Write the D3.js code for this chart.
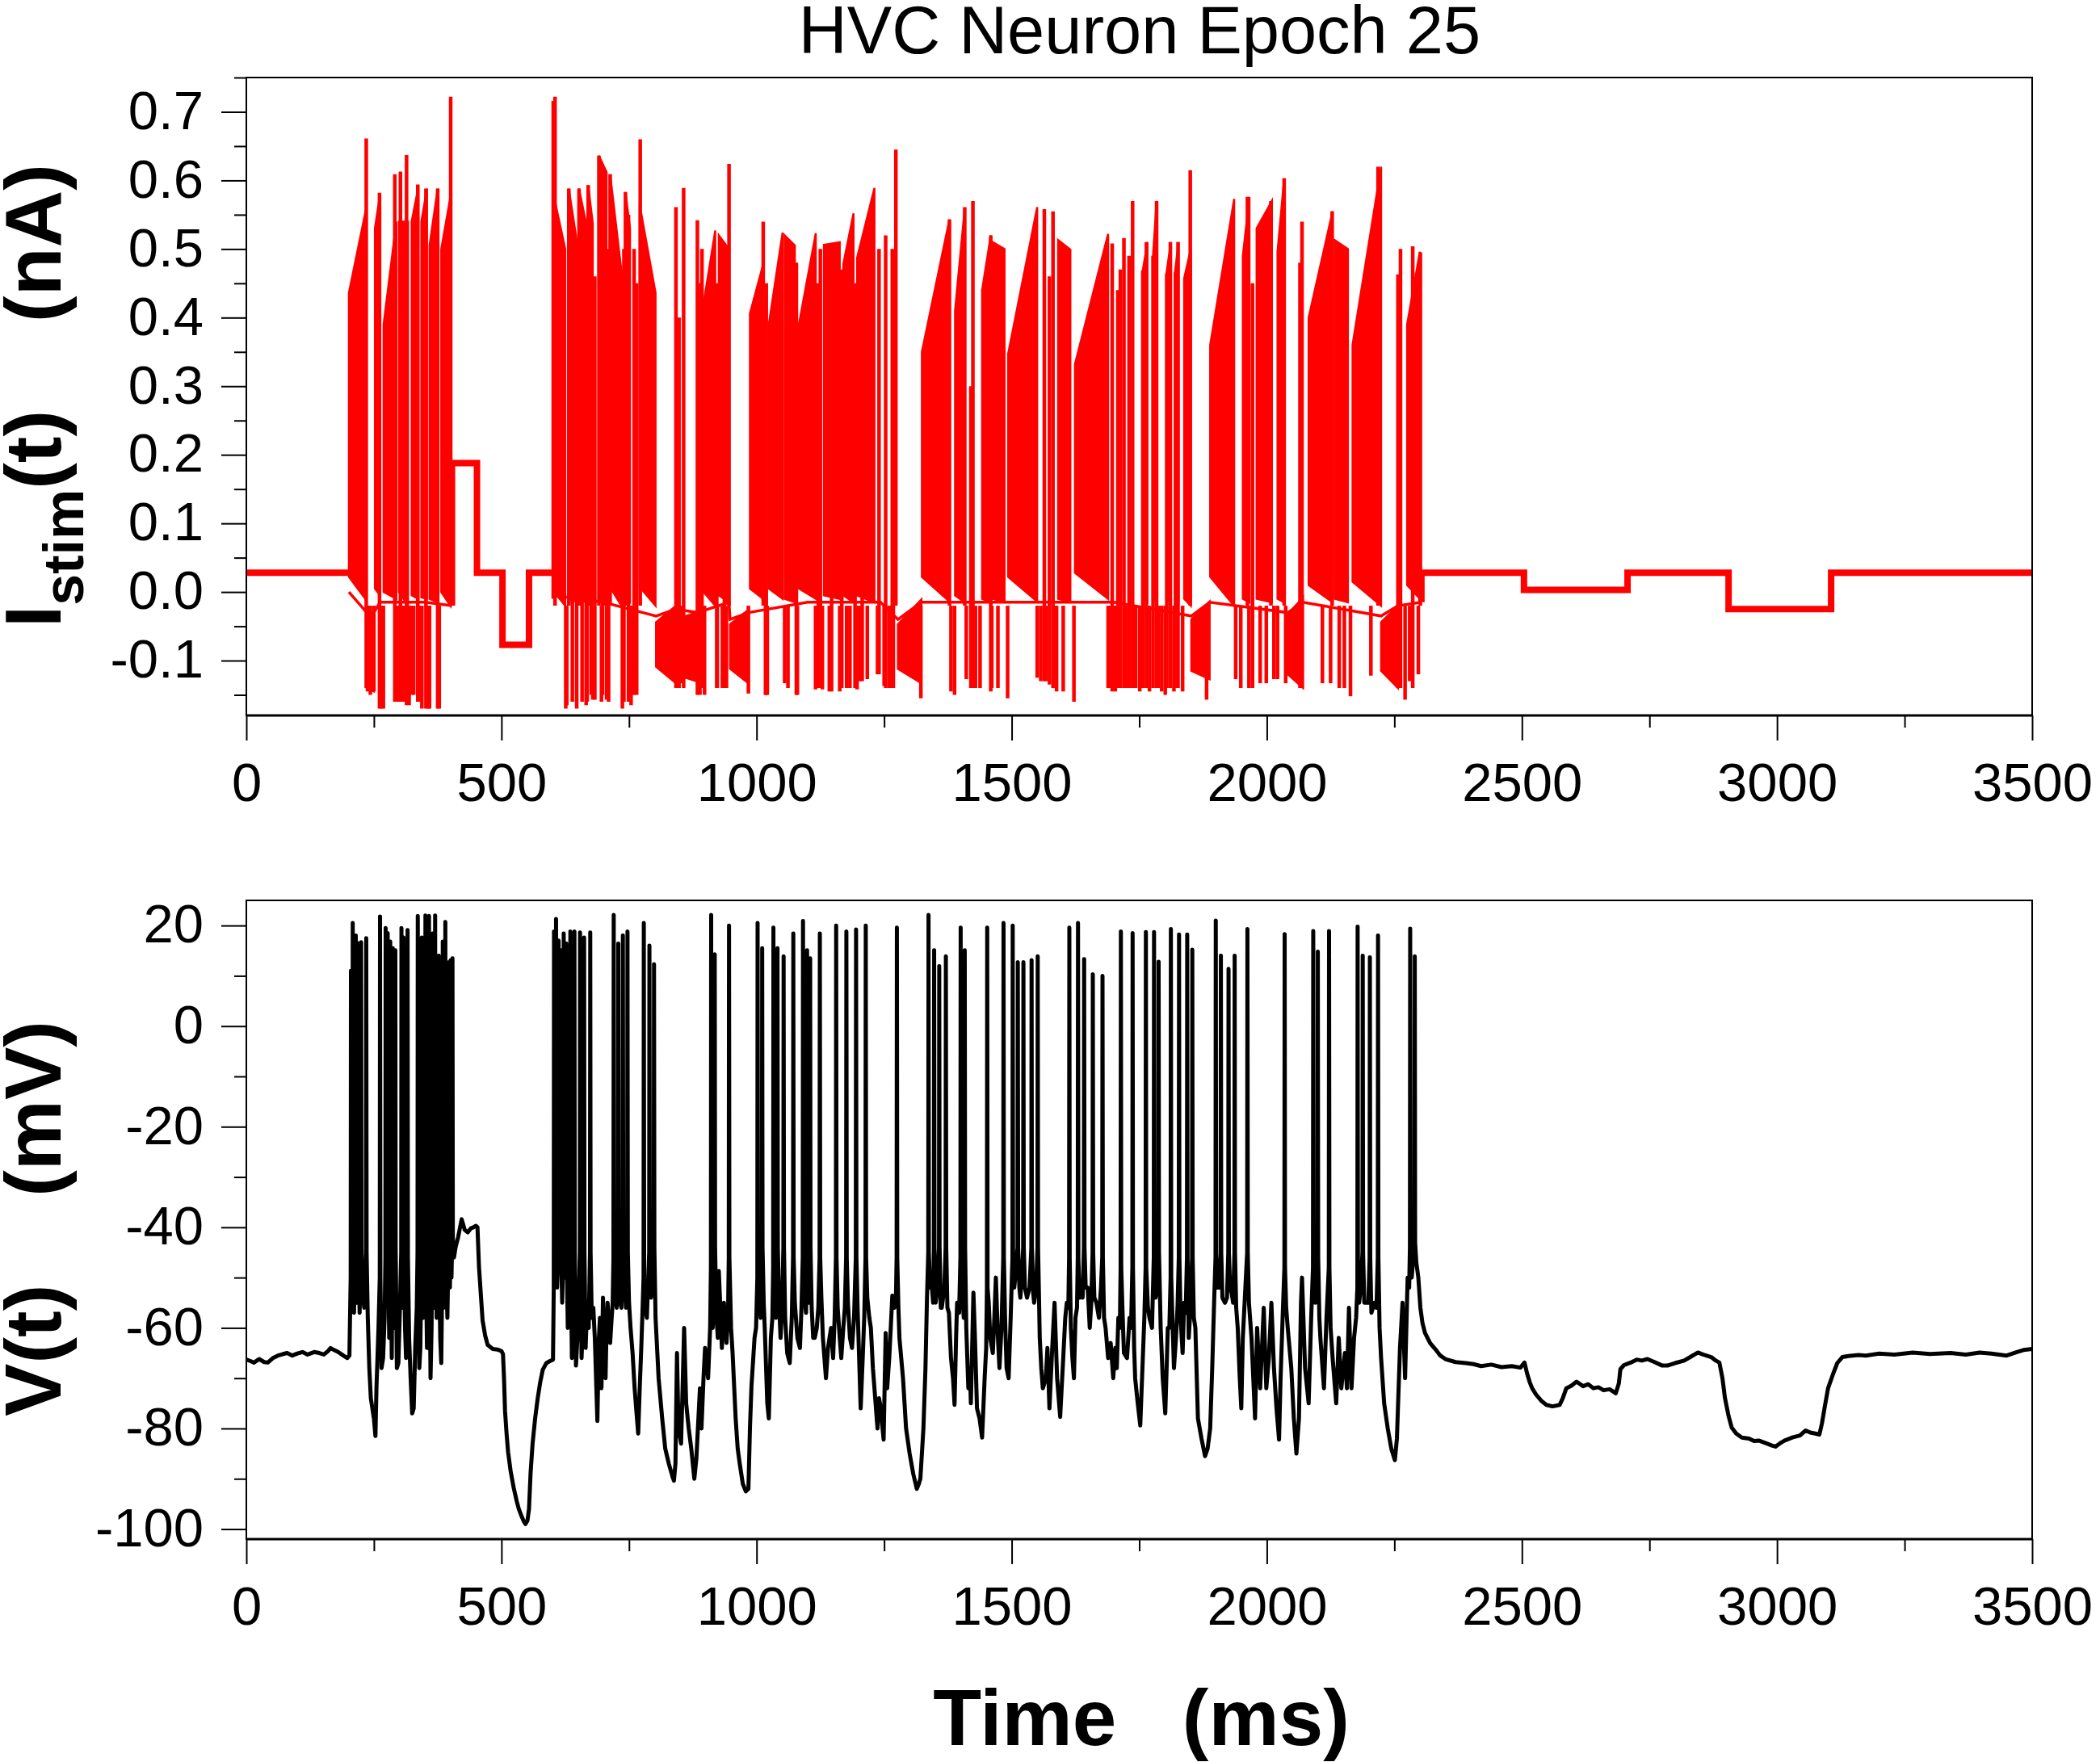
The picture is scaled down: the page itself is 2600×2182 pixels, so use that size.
<!DOCTYPE html>
<html><head><meta charset="utf-8">
<script src="https://cdn.jsdelivr.net/npm/d3@7"></script>
<style>
html,body{margin:0;padding:0;background:#fff;}
svg{display:block;}
text{font-family:"Liberation Sans",Arial,Helvetica,sans-serif;}
</style></head><body>
<svg id="chart" width="2600" height="2182"></svg>
<script>
// ---------- tick values & labels ----------
const timeTicks = [0,500,1000,1500,2000,2500,3000,3500];
const timeLabels = ["0","500","1000","1500","2000","2500","3000","3500"];
const timeMinor = [250,750,1250,1750,2250,2750,3250];
const currentTicks = [-0.1,0,0.1,0.2,0.3,0.4,0.5,0.6,0.7];
const currentLabels = ["-0.1","0.0","0.1","0.2","0.3","0.4","0.5","0.6","0.7"];
const currentMinor = [-0.15,-0.05,0.05,0.15,0.25,0.35,0.45,0.55,0.65,0.75];
const voltageTicks = [-100,-80,-60,-40,-20,0,20];
const voltageLabels = ["-100","-80","-60","-40","-20","0","20"];
const voltageMinor = [-90,-70,-50,-30,-10,10];

// ---------- stimulus current I_stim(t) (nA) ----------
const stimSteps = [
 [[0,0.028],[201,0.028]],
 [[403,-0.02],[403,0.188],[452,0.188],[452,0.028],[502,0.028],[502,-0.077],[554,-0.077],[554,0.028],[601,0.028]],
 [[2303,-0.015],[2303,0.028],[2504,0.028],[2504,0.003],[2707,0.003],[2707,0.028],[2905,0.028],[2905,-0.025],[3106,-0.025],[3106,0.028],[3500,0.028]]
];
const stimFloor = [
 [[201,0.0],[236,-0.03],[250,-0.03],[262,-0.015],[300,-0.015],[350,-0.015],[403,-0.02]],
 [[601,-0.005],[700,-0.015],[803,-0.035],[842,-0.025],[884,-0.03],[946,-0.015],[948,-0.04],[984,-0.03],[1100,-0.015],[1243,-0.015],[1277,-0.04],[1323,-0.015],[1500,-0.015],[1700,-0.015],[1852,-0.035],[1888,-0.015],[2041,-0.03],[2071,-0.015],[2224,-0.035],[2257,-0.02],[2303,-0.015]]
];
// dense oscillation bands [t0, t1, top0, top1, bottom0, bottom1]
const stimBands = [
 [201,235,0.436,0.56,0.022,-0.012],[236,250,-0.03,-0.03,-0.14,-0.145],[252,262,0.53,0.58,0.005,-0.005],
 [269,294,0.39,0.54,0.0,-0.01],[299,317,0.54,0.54,0.0,-0.02],[324,337,0.54,0.59,-0.005,-0.01],
 [343,354,0.54,0.588,-0.008,-0.01],[359,375,0.505,0.588,-0.01,-0.015],[382,400,0.5,0.576,0.0,-0.02],
 [603,625,0.576,0.50,0.0,-0.02],[632,649,0.588,0.505,-0.01,-0.015],[652,666,0.588,0.537,-0.01,-0.015],
 [670,679,0.593,0.537,-0.01,-0.015],[691,706,0.636,0.612,-0.01,-0.015],[713,735,0.609,0.469,0.007,-0.02],
 [743,752,0.583,0.53,-0.01,-0.015],[771,802,0.564,0.436,0.007,-0.02],[803,842,-0.044,-0.02,-0.109,-0.133],
 [861,882,-0.035,-0.03,-0.125,-0.13],[896,919,0.42,0.527,0.0,-0.02],[926,946,0.52,0.5,-0.005,-0.015],
 [948,984,-0.047,-0.026,-0.112,-0.133],[987,1013,0.406,0.478,0.005,-0.01],[1024,1051,0.39,0.524,0.005,-0.01],
 [1055,1075,0.52,0.505,-0.01,-0.015],[1083,1116,0.39,0.523,0.005,-0.01],[1132,1163,0.506,0.51,-0.005,-0.01],
 [1170,1190,0.478,0.552,-0.005,-0.015],[1197,1231,0.487,0.589,-0.005,-0.015],[1277,1323,-0.047,-0.011,-0.112,-0.133],
 [1324,1378,0.35,0.543,0.022,-0.014],[1389,1408,0.41,0.56,-0.005,-0.015],[1442,1459,0.44,0.52,-0.01,-0.015],
 [1463,1486,0.51,0.50,-0.01,-0.015],[1493,1550,0.347,0.561,0.022,-0.014],[1591,1615,0.513,0.499,-0.01,-0.015],
 [1624,1689,0.332,0.522,0.028,-0.01],[1757,1766,0.469,0.51,-0.01,-0.015],[1777,1784,0.49,0.57,-0.01,-0.015],
 [1803,1812,0.463,0.51,-0.01,-0.015],[1820,1827,0.466,0.51,-0.01,-0.015],[1838,1851,0.457,0.5,-0.01,-0.02],
 [1852,1888,-0.04,-0.014,-0.115,-0.127],[1889,1936,0.36,0.573,0.022,-0.02],[1953,1966,0.49,0.576,-0.01,-0.015],
 [1980,2010,0.53,0.57,-0.01,-0.015],[2021,2034,0.496,0.603,-0.01,-0.015],[2041,2071,-0.032,-0.008,-0.12,-0.14],
 [2082,2129,0.40,0.555,0.01,-0.015],[2133,2159,0.513,0.50,-0.01,-0.015],[2168,2224,0.36,0.62,0.015,-0.02],
 [2224,2257,-0.044,-0.02,-0.115,-0.14],[2275,2300,0.39,0.496,0.01,-0.01]
];
// individual excursions [t, low, high]
const stimSpikes = [
 [235,-0.14,0.661],[237.5,-0.145,-0.02],[243,-0.15,-0.02],[250,-0.145,-0.02],[261,-0.17,0.582],[264.5,-0.17,-0.02],[268.6,-0.17,-0.02],
 [291,-0.16,0.609],[297,-0.16,-0.02],[302,-0.16,0.613],[305,-0.16,-0.02],[309,-0.16,-0.02],[314,-0.165,0.637],[319,-0.165,-0.02],
 [324,-0.15,-0.02],[328,-0.15,-0.02],[336,-0.16,0.594],[341,-0.16,-0.02],[344,-0.17,-0.02],[352,-0.17,0.588],[356.5,-0.17,-0.02],
 [359,-0.17,-0.02],[375,-0.17,0.588],[378,-0.17,-0.02],[400.5,-0.02,0.722],
 [601.5,-0.01,0.716],[605,-0.02,0.722],[626,-0.17,-0.02],[628,-0.165,-0.02],[632,-0.02,0.588],[639,-0.16,0.47],[647.5,-0.17,0.505],[652,-0.02,0.588],
 [658,-0.16,0.5],[666,-0.165,0.537],[668,-0.16,-0.02],[670,-0.02,0.593],[676,-0.15,0.52],[679,-0.157,-0.02],[683,-0.157,0.46],[691,-0.02,0.636],[696,-0.16,-0.02],
 [698,-0.15,0.55],[701,-0.02,0.613],[704,-0.02,0.614],[706,-0.157,-0.02],[710,-0.16,0.5],[713,-0.02,0.609],[737,-0.17,0.47],[740,-0.16,0.5],[743,-0.02,0.583],
 [749,-0.16,0.55],[754,-0.165,-0.02],[757,-0.15,-0.02],[760,-0.15,0.5],[765,-0.15,0.45],[772,-0.02,0.66],[842,-0.14,0.561],[845,-0.13,-0.02],[848,-0.14,0.4],
 [852,-0.133,-0.02],[857,-0.14,0.589],[884,-0.15,0.542],[889,-0.15,0.45],[893,-0.14,0.5],[898,-0.15,-0.02],[922,-0.14,0.45],[923,-0.14,-0.02],
 [933,-0.14,-0.02],[937,-0.14,0.5],[941,-0.14,-0.02],[946,-0.02,0.624],[984,-0.148,-0.02],
 [1013,-0.02,0.54],[1017.5,-0.15,-0.02],[1019,-0.15,0.45],[1021,-0.15,-0.02],[1055,-0.133,-0.02],[1061.5,-0.14,-0.02],[1078,-0.15,0.48],[1080,-0.15,-0.02],
 [1115.6,-0.142,-0.02],[1121,-0.14,0.45],[1125,-0.14,0.5],[1129,-0.142,-0.02],[1142.6,-0.145,-0.02],[1147,-0.145,0.45],[1163,-0.145,-0.02],
 [1167,-0.14,0.47],[1176.5,-0.14,-0.02],[1183,-0.14,-0.02],[1193,-0.14,0.45],[1197,-0.142,-0.02],[1203.5,-0.13,-0.02],[1207,-0.13,0.5],
 [1217,-0.127,-0.02],[1237,-0.12,-0.02],[1240,-0.12,0.5],
 [1250,-0.137,-0.02],[1253,-0.14,0.52],[1260,-0.14,-0.02],[1266,-0.14,0.50],[1268,-0.14,0.49],[1273,-0.02,0.645],[1322,-0.155,-0.02],[1378,-0.02,0.543],
 [1381,-0.145,-0.02],[1388,-0.15,-0.02],[1408,-0.02,0.561],[1411,-0.127,-0.02],[1420,-0.14,0.3],[1424,-0.14,0.57],[1429,-0.14,-0.02],[1438,-0.14,-0.02],
 [1459,-0.145,0.52],[1461,-0.14,-0.02],[1473,-0.14,-0.02],[1492,-0.155,-0.02],[1550,-0.125,-0.02],[1557,-0.13,-0.02],[1564,-0.13,0.558],
 [1567,-0.13,-0.02],[1574,-0.135,0.46],[1581,-0.14,0.555],[1584,-0.135,-0.02],[1588,-0.145,-0.02],[1601,-0.145,-0.02],[1622,-0.16,-0.02],
 [1689,-0.14,-0.02],[1693,-0.14,-0.02],[1697,-0.145,0.508],[1703,-0.145,-0.02],[1708,-0.14,0.44],[1713,-0.14,0.47],[1720,-0.14,0.516],[1724,-0.14,-0.02],[1730,-0.14,0.49],
 [1737,-0.14,0.57],[1743,-0.14,-0.02],[1751,-0.145,-0.02],[1757,-0.14,0.469],[1764,-0.14,0.51],[1770,-0.145,-0.02],[1777,-0.14,0.49],
 [1784,-0.14,0.57],[1787,-0.14,-0.02],[1794,-0.145,-0.02],[1801,-0.15,-0.02],[1804,-0.14,0.463],[1811,-0.14,0.51],[1818,-0.145,-0.02],
 [1821,-0.14,0.466],[1826,-0.14,0.51],[1835,-0.145,-0.02],[1850,-0.02,0.615],[1882,-0.157,-0.02],[1939,-0.127,-0.02],[1949,-0.14,-0.02],
 [1962,-0.02,0.576],[1965,-0.14,-0.02],[1972,-0.14,0.45],[1987,-0.133,-0.02],[1999,-0.133,-0.02],[2008,-0.02,0.57],[2014,-0.127,-0.02],[2021,-0.127,-0.02],
 [2034,-0.02,0.603],[2037,-0.133,-0.02],[2065,-0.14,0.48],[2069,-0.14,0.54],[2109,-0.133,-0.02],[2125,-0.133,-0.02],[2128,-0.02,0.555],
 [2142,-0.14,-0.02],[2152,-0.14,-0.02],[2164,-0.152,-0.02],[2204,-0.122,-0.02],[2218,-0.02,0.62],[2257,-0.14,0.463],[2262,-0.14,0.5],
 [2271,-0.157,-0.02],[2280,-0.13,-0.02],[2286,-0.14,0.504],[2297,-0.12,-0.02],[2301,-0.02,0.495]
];

// ---------- membrane voltage V(t) (mV) ----------
const vBase = [
 [0,-66.3],[8,-66.6],[15,-66.9],[25,-66.2],[35,-66.8],[42,-66.9],[52,-66],[62,-65.5],[72,-65.2],[80,-65],[90,-65.5],[100,-65.1],
 [110,-64.8],[120,-65.3],[133,-64.8],[143,-65],[152,-65.3],[160,-64.6],[165,-64],[172,-64.4],[180,-64.8],[190,-65.5],[198,-66],[202,-65.5],
 [207,-53],[211,-57],[213,-48],[217,-55],[222,-57],[227,-52],[231,-56],[233,-50],[238,-58],[241,-68],[244,-74],[247,-76],[250,-78],
 [253,-81.5],[255,-72],[257,-66],[259,-60],[265,-68],[268,-66],[271,-58],[275,-55],[280,-62],[285,-66],[290,-60],[295,-68],[298,-67],
 [301,-56],[306,-56],[311,-60],[313,-66],[319,-62],[322,-70],[325,-77],[328,-76],[331,-64],[334,-56],[339,-68],[341,-64],[347,-58],
 [349,-54],[354,-64],[356,-56],[361,-70],[363,-60],[367,-56],[373,-58],[375,-50],[380,-62],[382,-67],[387,-56],[394,-58],[399,-52],
 [402,-50],[407,-46],[410,-44],[415,-42],[422,-38.4],[428,-40.5],[434,-41],[440,-40.2],[445,-40],[450,-39.7],[453,-40],[456,-47.9],
 [460,-54],[463,-58.5],[468,-61.5],[473,-63.4],[478,-63.8],[483,-64.2],[492,-64.3],[500,-64.6],[503,-65.2],[505,-70],[507,-76.5],
 [510,-81],[513,-84.7],[518,-88.5],[524,-91.8],[530,-94.5],[534,-96],[540,-97.6],[544,-98.5],[547,-99],[551,-98.3],[554,-96],[557,-89],
 [561,-83],[566,-78],[571,-74],[576,-70.8],[581,-68.3],[588,-67],[595,-66.6],[601,-66.3],
 [605,-48],[609,-52],[614,-46],[619,-55],[624,-50],[630,-60],[633,-56],[638,-66],[640,-62],[646,-67.5],[650,-60],[657,-66],[660,-58],
 [665,-64],[668,-55],[671,-60],[677,-58],[680,-56],[683,-62],[686,-72],[688,-78.5],[691,-62],[693,-58],[696,-72],[699,-54],[702,-66],
 [704,-70],[706,-60],[708,-55],[711,-60],[713,-63],[716,-58],[718,-55],[723,-52],[726,-56],[732,-54],[735,-56],[741,-50],[744,-56],
 [750,-55],[753,-60],[757,-65],[761,-72],[764,-76],[768,-81],[771,-72],[774,-64],[776,-58],[782,-56],[785,-58],[787,-52],[793,-54],
 [796,-52],[802,-58],[805,-64],[808,-70],[815,-78],[821,-84],[828,-87],[835,-89.5],[838,-90.4],[841,-87],[844,-65],[847,-80],[852,-83],
 [855,-72],[858,-60],[862,-75],[867,-80],[872,-84],[878,-90],[882,-86],[886,-78],[889,-72],[892,-80],[896,-70],[899,-64],[903,-68],
 [905,-70],[909,-60],[914,-60],[916,-55],[921,-57],[924,-62],[926,-48.7],[929,-56],[932,-64],[936,-55],[939,-60],[941,-63],[944,-58],
 [950,-60],[953,-65],[959,-78],[963,-84],[967,-87],[973,-91],[979,-92.5],[984,-92],[987,-80],[990,-71.6],[996,-62],[999,-60],
 [1005,-54],[1008,-58],[1014,-55],[1016,-60],[1021,-75],[1024,-78],[1028,-62],[1031,-58],[1036,-55],[1038,-58],[1044,-55],[1047,-62],
 [1050,-56],[1056,-58],[1060,-65],[1065,-67],[1069,-58],[1075,-55],[1080,-62],[1085,-64],[1088,-56],[1094,-54],[1097,-57],[1102,-55],
 [1108,-56],[1111,-62],[1114,-62],[1118,-60],[1121,-56],[1127,-54],[1130,-62],[1136,-70],[1140,-64],[1146,-60],[1150,-66],[1153,-58],
 [1159,-56],[1163,-62],[1166,-66],[1170,-60],[1173,-56],[1179,-55],[1183,-62],[1187,-64],[1191,-58],[1198,-56],[1201,-66],[1204,-76],
 [1208,-66],[1211,-58],[1217,-54],[1221,-58],[1224,-60],[1228,-68],[1231,-72],[1234,-76],[1237,-80],[1240,-74],[1243,-75.7],[1246,-79],
 [1249,-82.2],[1253,-61],[1256,-72],[1260,-66],[1263,-60],[1266,-53.6],[1270,-56],[1273,-55],[1278,-56],[1280,-62],[1287,-70],[1293,-80],
 [1300,-85],[1307,-89],[1314,-92],[1318,-91],[1321,-90],[1327,-80],[1331,-68],[1334,-54],[1340,-52],[1343,-51],[1346,-55],[1351,-55],
 [1355,-52],[1361,-56],[1363,-56],[1368,-52],[1374,-56],[1377,-57],[1381,-66],[1385,-70],[1388,-75.3],[1391,-62],[1393,-55],[1397,-57],
 [1403,-52],[1406,-58],[1411,-60],[1415,-72],[1418,-68],[1420,-75],[1425,-53],[1428,-62],[1432,-76],[1437,-78],[1442,-81.8],[1447,-70],
 [1450,-64],[1455,-55],[1458,-62],[1463,-65],[1466,-58],[1469,-50],[1473,-62],[1476,-68],[1480,-60],[1487,-58],[1490,-68],[1494,-70],
 [1498,-58],[1505,-52],[1507,-50],[1515,-52],[1517,-54],[1520,-50],[1526,-52],[1530,-54],[1535,-52],[1542,-53],[1544,-55],[1548,-52],
 [1555,-62],[1558,-68],[1561,-72],[1567,-70],[1570,-64],[1574,-76],[1579,-65],[1584,-55],[1589,-70],[1595,-77.7],[1601,-66],[1605,-58],
 [1608,-55],[1611,-56],[1616,-60],[1619,-66],[1622,-70],[1625,-58],[1628,-56],[1633,-54],[1635,-52],[1639,-54],[1645,-52],[1649,-52],
 [1653,-60],[1656,-55],[1662,-54],[1666,-55],[1671,-58],[1675,-52],[1681,-58],[1684,-60],[1689,-66],[1694,-63],[1699,-70],[1703,-64],
 [1706,-68],[1709,-58],[1712,-60],[1717,-56],[1720,-65],[1726,-66],[1731,-58],[1734,-60],[1740,-64],[1742,-70],[1747,-75],[1752,-79.4],
 [1757,-66],[1760,-58],[1767,-56],[1770,-58],[1775,-60],[1782,-54],[1785,-52],[1792,-60],[1796,-70],[1801,-77],[1806,-60],
 [1809,-60],[1815,-58],[1818,-68],[1822,-62],[1825,-56],[1831,-58],[1835,-65],[1838,-55],[1841,-57],[1847,-62],[1851,-55],[1857,-58],
 [1860,-60],[1865,-78],[1872,-82],[1879,-85.5],[1884,-84],[1889,-80],[1893,-68],[1897,-54],[1903,-52],[1906,-52],[1913,-54],
 [1918,-55],[1922,-54],[1928,-52],[1931,-53],[1934,-55],[1940,-56],[1943,-60],[1947,-70],[1950,-76],[1953,-62],[1958,-52],[1965,-55],
 [1970,-62],[1977,-78],[1981,-60],[1987,-72],[1994,-56],[1999,-72],[2004,-66],[2009,-55],[2014,-68],[2019,-76],[2024,-82.2],[2027,-70],
 [2031,-58],[2038,-56],[2041,-60],[2048,-68],[2053,-78],[2058,-85],[2063,-78],[2067,-55],[2069,-50],[2075,-68],[2082,-75],[2087,-58],
 [2095,-55],[2103,-58],[2105,-62],[2112,-72],[2117,-58],[2125,-60],[2129,-66],[2136,-75],[2141,-62],[2146,-72],[2153,-65],[2157,-72],
 [2161,-56],[2166,-72],[2171,-62],[2175,-58],[2181,-55],[2184,-52],[2191,-55],[2195,-55],[2199,-55],[2205,-57],[2211,-55],[2215,-56],
 [2221,-60],[2224,-66],[2230,-75],[2237,-80],[2244,-84],[2251,-86.3],[2255,-82],[2261,-64],[2266,-55],[2271,-70],[2276,-50],[2279,-52],
 [2284,-50],[2293,-47],[2297,-50],[2301,-56],[2305,-59],[2310,-61],[2320,-63],[2330,-64.2],[2340,-65.5],[2350,-66.2],[2370,-66.8],
 [2390,-67],[2405,-67.2],[2420,-67.6],[2440,-67.3],[2460,-67.8],[2480,-67.6],[2497,-67.9],[2505,-66.9],[2510,-69],[2515,-70.7],[2520,-72],
 [2528,-73.3],[2538,-74.5],[2548,-75.3],[2560,-75.6],[2574,-75.3],[2580,-74],[2587,-72],[2597,-71.5],[2607,-70.7],[2620,-71.6],[2630,-71.2],
 [2640,-72],[2650,-71.8],[2660,-72.4],[2672,-72.2],[2684,-73],[2690,-71],[2693,-68.2],[2700,-67.4],[2713,-66.9],[2725,-66.3],[2735,-66.5],
 [2746,-66.2],[2760,-66.8],[2775,-67.5],[2785,-67.5],[2800,-67],[2818,-66.5],[2830,-65.8],[2845,-64.9],[2855,-65.3],[2871,-65.8],[2880,-66.5],
 [2887,-66.9],[2893,-70],[2898,-74],[2905,-77.5],[2911,-79.8],[2920,-81],[2931,-81.8],[2945,-82],[2955,-82.5],[2964,-82.4],[2980,-83],
 [2990,-83.4],[2997,-83.6],[3005,-83],[3015,-82.4],[3030,-81.8],[3045,-81.4],[3056,-80.4],[3065,-80.8],[3075,-81],[3083,-81.2],[3088,-79],
 [3093,-76],[3100,-72],[3109,-69.4],[3118,-67],[3128,-65.8],[3140,-65.6],[3160,-65.4],[3174,-65.5],[3200,-65.1],[3230,-65.3],[3266,-64.9],
 [3300,-65.2],[3340,-65],[3370,-65.3],[3397,-64.9],[3420,-65.1],[3450,-65.5],[3470,-64.8],[3483,-64.4],[3500,-64.2]
];
// action potentials [t, foot (after-depolarisation level), peak]
const vSpikes = [
 [205,-50,11],[208.5,-44,20.5],[214.5,-44,18],[219.5,-44,16.5],[225,-44,16.7],[235,-45,17.5],
 [262,-50,21.8],[273,-46,19.5],[277,-45,18.5],[282,-44,16.8],[287,-44,15.5],[292,-44,15.1],[304,-45,19.5],[308,-45,17.6],[316,-46,19.1],
 [336,-45,21.9],[344,-45,17.6],[351,-45,22],[358,-45,21.9],[365,-45,18.4],[370,-45,22],[377,-44,14],[385,-45,16.8],[390,-44,20.7],
 [397,-43,12.7],[400.5,-43,13.1],[404,-42,13.5],
 [603,-52,18.8],[607,-44,21.3],[612,-44,17],[616,-44,15.1],[622,-44,18.4],[627,-44,16.4],[635,-45,18.8],[643,-45,18.8],[654,-45,18.6],
 [662,-45,17.6],[674,-45,18.6],[720,-46,22.1],[729,-44,16.4],[738,-45,18],[747,-45,18.8],[779,-50,20.5],[790,-45,16],[799,-44,12.3],
 [911,-48,22.1],[918,-44,14.3],[946,-46,20],
 [1002,-50,20.5],[1011,-44,15.5],[1033,-48,19.6],[1041,-44,15.5],[1053,-44,13.9],[1072,-46,18.4],[1091,-46,20.9],[1099,-44,15.1],
 [1105,-44,13.5],[1124,-46,18.4],[1156,-46,20],[1176,-46,18.8],[1195,-46,19.2],[1214,-46,20],[1275,-46,19.6],
 [1337,-45,22.1],[1348,-44,15.1],[1358,-44,11.9],[1371,-44,13.9],[1400,-46,19.6],[1408,-44,15.1],[1452,-52,19.6],[1484,-46,20.5],
 [1502,-46,20],[1512,-44,12.7],[1523,-44,12.7],[1539,-44,13.1],[1551,-44,13.9],[1613,-46,19.6],[1630,-46,20.5],[1642,-44,13.3],
 [1659,-45,10.3],[1678,-46,10],[1714,-48,18.8],[1737,-48,18.5],[1763,-48,18.7],[1779,-46,18.7],[1788,-45,12.8],[1812,-50,19.3],
 [1828,-46,18.2],[1844,-46,18.2],[1854,-46,15.2],[1900,-46,21],[1910,-45,14],[1925,-45,11.4],[1937,-45,14],[1962,-45,19.3],
 [2035,-48,18.3],[2091,-48,18.9],[2100,-46,14.8],[2122,-48,18.9],[2178,-52,19.8],[2188,-45,14],[2202,-46,13.7],[2218,-46,18],
 [2281,-44,19.4],[2290,-43,13.9]
];

// ---------- layout ----------
const svg = d3.select('#chart');
const FONT = '"Liberation Sans",Arial,Helvetica,sans-serif';
const x = d3.scaleLinear().domain([0,3500]).range([305,2516]);
const yI = d3.scaleLinear().domain([-0.18,0.75]).range([886,96]);
const yV = d3.scaleLinear().domain([-102,25]).range([1906,1115]);

svg.append('rect').attr('width',2600).attr('height',2182).attr('fill','#fff');

function drawAxes(y, yTicks, yLabels, yMinor) {
  const [yb, yt] = y.range();
  const g = svg.append('g');
  const gx = g.append('g').attr('transform',`translate(0,${yb})`)
    .call(d3.axisBottom(x).tickValues(timeTicks).tickFormat((d,i)=>timeLabels[i]).tickSize(31).tickPadding(27).tickSizeOuter(0));
  const gxm = g.append('g').attr('transform',`translate(0,${yb})`)
    .call(d3.axisBottom(x).tickValues(timeMinor).tickFormat('').tickSize(15).tickSizeOuter(0));
  const gy = g.append('g').attr('transform',`translate(305,0)`)
    .call(d3.axisLeft(y).tickValues(yTicks).tickFormat((d,i)=>yLabels[i]).tickSize(31).tickPadding(22).tickSizeOuter(0));
  const gym = g.append('g').attr('transform',`translate(305,0)`)
    .call(d3.axisLeft(y).tickValues(yMinor).tickFormat('').tickSize(15).tickSizeOuter(0));
  [gx,gxm,gy,gym].forEach(a=>{
    a.select('.domain').remove();
    a.selectAll('line').attr('stroke','#000').attr('stroke-width',2);
    a.selectAll('text').attr('font-size',67).attr('font-family',FONT).attr('fill','#000');
  });
  gx.selectAll('text').attr('dy','0.71em');
  gy.selectAll('text').attr('dy','0.31em');
  g.append('rect').attr('x',305).attr('y',yt).attr('width',2211).attr('height',yb-yt)
    .attr('fill','none').attr('stroke','#000').attr('stroke-width',2);
  g.append('line').attr('x1',305).attr('x2',2516).attr('y1',yb).attr('y2',yb).attr('stroke','#000').attr('stroke-width',3);
}

// ---------- top panel ----------
const gI = svg.append('g');
const area = d3.area().x(d=>x(d[0])).y0(d=>yI(d[2])).y1(d=>yI(d[1]));
gI.selectAll('path.band').data(stimBands).join('path').attr('class','band')
  .attr('d',b=>area([[b[0],b[2],b[4]],[b[1],b[3],b[5]]]))
  .attr('fill','#ff0000').attr('stroke','#ff0000').attr('stroke-width',2.5).attr('stroke-linejoin','miter');
const lineI = d3.line().x(d=>x(d[0])).y(d=>yI(d[1]));
gI.selectAll('path.floor').data(stimFloor).join('path').attr('class','floor')
  .attr('d',lineI).attr('fill','none').attr('stroke','#ff0000').attr('stroke-width',3.5);
gI.selectAll('path.spk').data(stimSpikes).join('path').attr('class','spk')
  .attr('d',s=>lineI([[s[0],s[1]],[s[0],s[2]]]))
  .attr('fill','none').attr('stroke','#ff0000').attr('stroke-width',4.5);
gI.selectAll('path.step').data(stimSteps).join('path').attr('class','step')
  .attr('d',lineI).attr('fill','none').attr('stroke','#ff0000').attr('stroke-width',8).attr('stroke-linejoin','miter');

drawAxes(yI, currentTicks, currentLabels, currentMinor);

// ---------- bottom panel ----------
const spikeTimes = vSpikes.map(s=>s[0]);
const vPts = vBase.filter(p=>!spikeTimes.some(t=>Math.abs(t-p[0])<1.0)).map(p=>p.slice());
vSpikes.forEach(([t,f,p])=>{ vPts.push([t-0.5,f],[t,p],[t+0.7,f]); });
vPts.sort((a,b)=>a[0]-b[0]);
const lineV = d3.line().x(d=>x(d[0])).y(d=>yV(d[1]));
svg.append('path').datum(vPts).attr('d',lineV).attr('fill','none')
  .attr('stroke','#000').attr('stroke-width',5).attr('stroke-linejoin','round');

drawAxes(yV, voltageTicks, voltageLabels, voltageMinor);

// ---------- texts ----------
svg.append('text').attr('x',1411).attr('y',66).attr('text-anchor','middle')
  .attr('font-size',83).attr('font-family',FONT).text('HVC Neuron Epoch 25');

const lt = svg.append('text').attr('transform','translate(75,490) rotate(-90)')
  .attr('text-anchor','middle').attr('font-size',98).attr('font-weight','bold')
  .attr('font-family',FONT).style('white-space','pre');
lt.append('tspan').text('I');
lt.append('tspan').attr('font-size',70).attr('dy',28).text('stim');
lt.append('tspan').attr('dy',-28).text('(t)    (nA)');

svg.append('text').attr('transform','translate(75,1509) rotate(-90)')
  .attr('text-anchor','middle').attr('font-size',98).attr('font-weight','bold')
  .attr('font-family',FONT).style('white-space','pre').text('V(t)    (mV)');

svg.append('text').attr('x',1413).attr('y',2161).attr('text-anchor','middle')
  .attr('font-size',98).attr('font-weight','bold').attr('font-family',FONT)
  .style('white-space','pre').text('Time   (ms)');
</script></body></html>
